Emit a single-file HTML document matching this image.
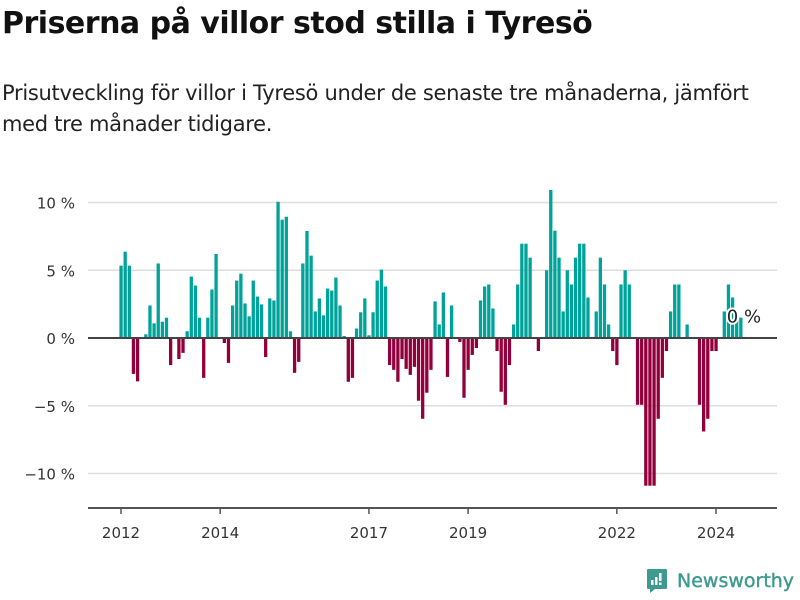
<!DOCTYPE html>
<html><head><meta charset="utf-8">
<style>
body{margin:0;width:800px;height:600px;background:#fff;font-family:"Liberation Sans","DejaVu Sans",sans-serif;overflow:hidden;position:relative}
h1{position:absolute;left:2px;top:6px;margin:0;font-size:30px;font-weight:bold;color:#111;font-family:"DejaVu Sans","Liberation Sans",sans-serif;letter-spacing:-0.5px}
.sub{position:absolute;left:2px;top:78px;margin:0;font-size:21px;line-height:31px;color:#222;width:796px;font-family:"DejaVu Sans","Liberation Sans",sans-serif;letter-spacing:-0.3px}
svg{position:absolute;left:0;top:0}
</style></head><body>
<h1>Priserna på villor stod stilla i Tyresö</h1>
<p class="sub">Prisutveckling för villor i Tyresö under de senaste tre månaderna, jämfört med tre månader tidigare.</p>
<svg id="chart" width="800" height="600"></svg>
<script>
const values=[5.34,6.37,5.34,-2.65,-3.2,0,0.27,2.4,1.08,5.5,1.2,1.5,-2.0,0,-1.55,-1.1,0.5,4.53,3.87,1.5,-2.94,1.5,3.58,6.2,0,-0.37,-1.84,2.4,4.24,4.75,2.55,1.6,4.24,3.06,2.48,-1.4,2.92,2.77,10.05,8.73,8.95,0.5,-2.57,-1.76,5.5,7.9,6.08,1.96,2.92,1.67,3.65,3.5,4.46,2.4,0.15,-3.23,-2.94,0.7,1.9,2.92,0.2,1.9,4.24,5.05,3.8,-2.0,-2.35,-3.23,-1.55,-2.28,-2.72,-2.13,-4.63,-5.96,-4.04,-2.35,2.7,1.0,3.36,-2.87,2.4,0,-0.3,-4.41,-2.35,-1.25,-0.74,2.77,3.8,3.95,2.18,-0.96,-3.97,-4.93,-2.0,1.0,3.95,6.96,6.96,5.93,0,-0.96,0,5.0,10.93,7.92,5.93,1.96,5.0,3.95,5.93,6.96,6.96,2.99,0,1.96,5.93,3.95,1.0,-0.96,-2.0,3.95,5.0,3.95,0,-4.93,-4.93,-10.9,-10.9,-10.9,-5.96,-2.94,-0.96,1.96,3.95,3.95,0,1.0,0,0,-4.93,-6.9,-5.96,-0.96,-0.96,0,1.96,3.95,2.99,1.5,1.5];
const startYear=2012;
const yTicks=[10,5,0,-5,-10];
const yTickLabels=["10 %","5 %","0 %","−5 %","−10 %"];
const xTickYears=[2012,2014,2017,2019,2022,2024];
const lastLabel="0 %";
const NS="http://www.w3.org/2000/svg";
const svg=document.getElementById('chart');
const y=v=>338-v*13.55;
const x=i=>121+i*(595/144);
function mk(t,a){const e=document.createElementNS(NS,t);for(const k in a)e.setAttribute(k,a[k]);svg.appendChild(e);return e;}
yTicks.forEach((t,i)=>{
  if(t!==0){const g=mk('line',{x1:88,x2:777,y1:y(t),y2:y(t),stroke:'#ddd','stroke-width':1.5});
  
  }
  const l=mk('text',{x:75,y:y(t)+6,'text-anchor':'end','font-size':15,fill:'#333','font-family':'"DejaVu Sans","Liberation Sans",sans-serif'});
  l.textContent=yTickLabels[i];
  
  
});
values.forEach((v,i)=>{
  if(v===0)return;
  const top=Math.min(y(v),y(0)),h=Math.abs(y(v)-y(0));
  const r=mk('rect',{x:x(i)-1.6,y:top,width:3.3,height:h,fill:v>0?'#00a39a':'#92003b'});
  
  
});
const z=mk('line',{x1:88,x2:777,y1:y(0),y2:y(0),stroke:'#444','stroke-width':2});


const ax=mk('line',{x1:88,x2:777,y1:508,y2:508,stroke:'#555','stroke-width':2});


xTickYears.forEach(yr=>{
  const px=x((yr-startYear)*12);
  const t=mk('line',{x1:px,x2:px,y1:508,y2:514,stroke:'#555','stroke-width':1.5});
  
  
  const l=mk('text',{x:px,y:538,'text-anchor':'middle','font-size':15,fill:'#333','font-family':'"DejaVu Sans","Liberation Sans",sans-serif'});
  l.textContent=yr;
  
  
});
const li=values.length-1;
const lab=mk('text',{x:x(li)-14,y:y(values[li])+5,'font-size':18,fill:'#222',stroke:'#fff','stroke-width':4,'paint-order':'stroke','font-family':'"DejaVu Sans","Liberation Sans",sans-serif'});
lab.textContent=lastLabel;


</script>
<div style="position:absolute;left:646px;top:568px;display:flex;align-items:center">
<svg width="22" height="26" viewBox="0 0 22 26" style="position:static"><path d="M2 1h18a1 1 0 0 1 1 1v18a1 1 0 0 1-1 1H9l-5 4v-4H2a1 1 0 0 1-1-1V2a1 1 0 0 1 1-1z" fill="#3e9a90"/><rect x="5" y="12" width="2.5" height="5" fill="#fff"/><rect x="9" y="9" width="2.5" height="8" fill="#fff"/><rect x="13" y="5" width="2.5" height="8" fill="#fff"/><rect x="13" y="14.5" width="2.5" height="2.5" fill="#fff"/></svg>
<span style="margin-left:9px;font-size:19px;color:#3e9a90;font-family:'DejaVu Sans','Liberation Sans',sans-serif;-webkit-text-stroke:0.4px #3e9a90">Newsworthy</span>
</div>
</body></html>
